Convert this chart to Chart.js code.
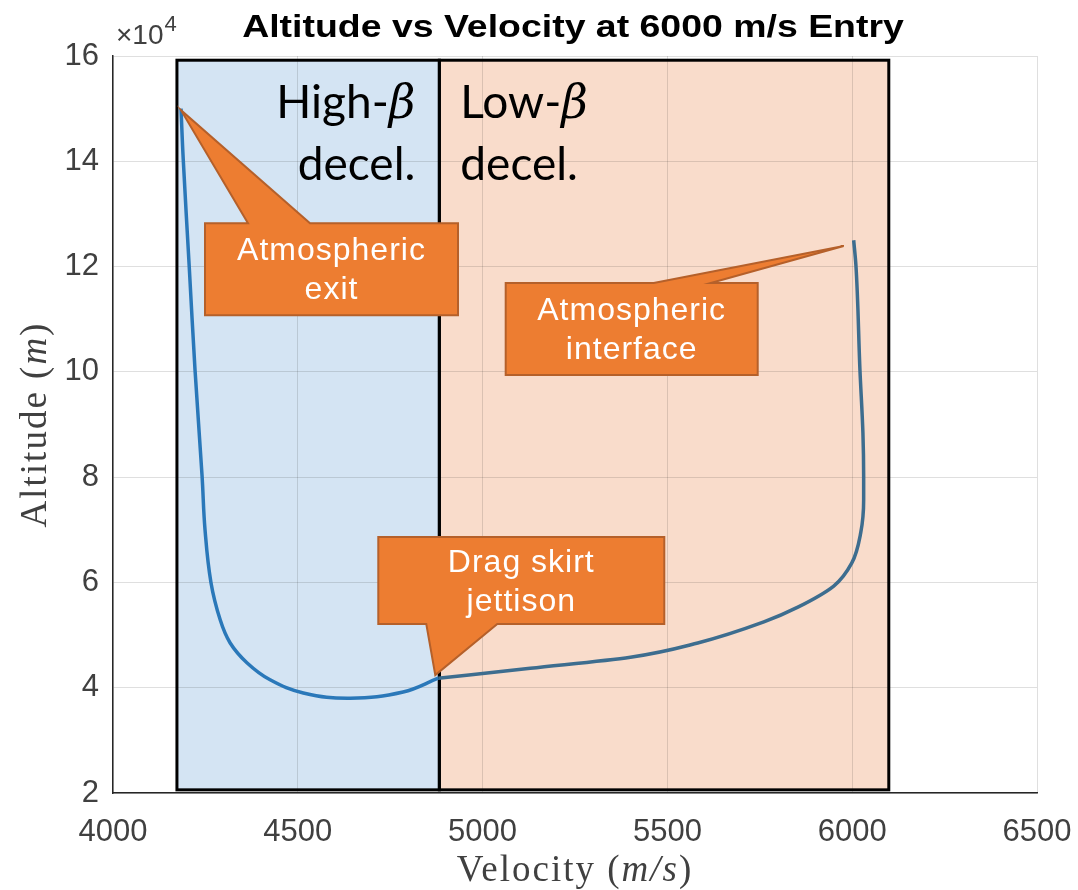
<!DOCTYPE html>
<html>
<head>
<meta charset="utf-8">
<script src="https://cdn.jsdelivr.net/npm/chart.js@4.4.1/dist/chart.umd.min.js"></script>
<style>
  body { margin: 0; background: #fff; }
  canvas { display: block; }
</style>
</head>
<body>
<canvas id="chart" width="1078" height="890"></canvas>
<script>
// trajectory, in flight order (velocity m/s, altitude m)
const lowBetaVelocity = [6004, 6010, 6021, 6029, 6031, 6031, 6023, 5999, 5950, 5853, 5761, 5582, 5400, 5129, 4880];
const lowBetaAltitude = [125000, 120300, 100300, 88400, 80200, 75700, 69400, 63700, 59300, 55300, 52500, 48500, 45800, 43700, 41800];

const highBetaVelocity = [4880, 4785, 4642, 4515, 4425, 4363, 4317, 4290, 4265, 4249, 4241, 4222, 4206, 4190, 4184];
const highBetaAltitude = [41800, 39200, 38000, 39000, 41500, 44700, 48500, 52900, 60000, 70000, 80200, 100300, 120300, 140400, 150000];

const velocityTicks = [4000, 4500, 5000, 5500, 6000, 6500];
const altitudeTicks = [20000, 40000, 60000, 80000, 100000, 120000, 140000, 160000];

// shaded phases (velocity range) and their common altitude range
const highBetaSpan = [4173, 4883];
const lowBetaSpan = [4883, 6099];
const spanAltitude = [20600, 159200];

// callouts: text lines and the data point the wedge points at
const calloutText = [['Atmospheric', 'exit'], ['Atmospheric', 'interface'], ['Drag skirt', 'jettison']];
const calloutTip = [[4184, 149700], [5977, 123900], [4872, 42400]];
// box offsets from the tip in px: l, t, r, b, wedge edge, wedge from, wedge to
const calloutBox = [
  [24, 113, 277, 205, 'top', 67, 129],
  [-338, 37, -86, 129, 'top', -190, -133],
  [-57, -138, 229, -51, 'bottom', -9, 62]
];

const toPoints = (xs, ys) => xs.map((x, i) => ({ x: x, y: ys[i] }));

const gridColor = 'rgba(38,38,38,0.15)';
const tickFont = { family: '"Liberation Sans", Arial, sans-serif', size: 31 };

const decor = {
  id: 'decor',
  beforeDraw(chart) {
    const { ctx, scales: { x, y } } = chart;
    ctx.save();
    ctx.fillStyle = '#fff';
    ctx.fillRect(0, 0, chart.width, chart.height);
    const top = y.getPixelForValue(spanAltitude[1]);
    const bot = y.getPixelForValue(spanAltitude[0]);
    ctx.fillStyle = '#d4e4f3';
    ctx.fillRect(x.getPixelForValue(highBetaSpan[0]), top,
      x.getPixelForValue(highBetaSpan[1]) - x.getPixelForValue(highBetaSpan[0]), bot - top);
    ctx.fillStyle = '#f9dccb';
    ctx.fillRect(x.getPixelForValue(lowBetaSpan[0]), top,
      x.getPixelForValue(lowBetaSpan[1]) - x.getPixelForValue(lowBetaSpan[0]), bot - top);
    ctx.restore();
  },
  beforeDatasetsDraw(chart) {
    const { ctx, scales: { x, y } } = chart;
    const top = y.getPixelForValue(spanAltitude[1]);
    const bot = y.getPixelForValue(spanAltitude[0]);
    ctx.save();
    ctx.strokeStyle = '#000';
    ctx.lineWidth = 3;
    [highBetaSpan, lowBetaSpan].forEach(s => {
      const l = x.getPixelForValue(s[0]), r = x.getPixelForValue(s[1]);
      ctx.strokeRect(l, top, r - l, bot - top);
    });
    ctx.restore();
  },
  afterDraw(chart) {
    const { ctx, chartArea: ca, scales: { x, y } } = chart;
    const mid = (ca.left + ca.right) / 2;
    ctx.save();

    // title (matlab bold title is wider than Liberation Sans)
    ctx.fillStyle = '#000';
    ctx.textAlign = 'center';
    ctx.textBaseline = 'alphabetic';
    ctx.font = 'bold 32px "Liberation Sans", Arial, sans-serif';
    ctx.save();
    ctx.translate(mid - 2, 37);
    ctx.scale(1.17, 1);
    ctx.fillText('Altitude vs Velocity at 6000 m/s Entry', 0, 0);
    ctx.restore();

    // exponent
    ctx.fillStyle = '#404040';
    ctx.textAlign = 'left';
    ctx.font = '28px "Liberation Sans", Arial, sans-serif';
    ctx.fillText('\u00d710', ca.left + 3, 44);
    const w = ctx.measureText('\u00d710').width;
    ctx.font = '22px "Liberation Sans", Arial, sans-serif';
    ctx.fillText('4', ca.left + 4 + w, 31);

    // axis titles, italic units
    const serif = '"Liberation Serif", "Times New Roman", serif';
    const parts = (label, unit) => [[label + ' (', ''], [unit, 'italic '], [')', '']];
    const drawParts = (list, cx, cy) => {
      ctx.letterSpacing = '2px';
      let total = 0;
      list.forEach(p => { ctx.font = p[1] + '37px ' + serif; total += ctx.measureText(p[0]).width; });
      let px = cx - total / 2;
      list.forEach(p => {
        ctx.font = p[1] + '37px ' + serif;
        ctx.fillText(p[0], px, cy);
        px += ctx.measureText(p[0]).width;
      });
      ctx.letterSpacing = '0px';
    };
    ctx.fillStyle = '#404040';
    ctx.textAlign = 'left';
    drawParts(parts('Velocity', 'm/s'), mid, 881);
    ctx.save();
    ctx.translate(46, (ca.top + ca.bottom) / 2);
    ctx.rotate(-Math.PI / 2);
    drawParts(parts('Altitude', 'm'), 0, 0);
    ctx.restore();

    // phase labels
    const top = y.getPixelForValue(spanAltitude[1]);
    const split = x.getPixelForValue(highBetaSpan[1]);
    const sans = 'Lato, "Open Sans", sans-serif';
    const size = '46px ';
    const beta = 'italic 46px "DejaVu Serif", serif';
    ctx.fillStyle = '#000';
    ctx.font = size + sans;
    const hw = ctx.measureText('High-').width;
    ctx.font = beta;
    const bw = ctx.measureText('\u03b2').width;
    ctx.font = size + sans;
    ctx.fillText('High-', split - 24 - bw - hw, top + 58);
    ctx.font = beta;
    ctx.fillText('\u03b2', split - 24 - bw, top + 58);
    ctx.font = size + sans;
    ctx.textAlign = 'right';
    ctx.fillText('decel.', split - 24, top + 120);
    ctx.textAlign = 'left';
    ctx.fillText('Low-', split + 21, top + 58);
    const lw = ctx.measureText('Low-').width;
    ctx.font = beta;
    ctx.fillText('\u03b2', split + 21 + lw, top + 58);
    ctx.font = size + sans;
    ctx.fillText('decel.', split + 21, top + 120);

    // callouts
    calloutTip.forEach((tip, i) => {
      const tx = x.getPixelForValue(tip[0]), ty = y.getPixelForValue(tip[1]);
      const [l, t, r, b, edge, w0, w1] = calloutBox[i];
      ctx.beginPath();
      if (edge === 'top') {
        ctx.moveTo(tx + l, ty + t);
        ctx.lineTo(tx + w0, ty + t);
        ctx.lineTo(tx, ty);
        ctx.lineTo(tx + w1, ty + t);
        ctx.lineTo(tx + r, ty + t);
        ctx.lineTo(tx + r, ty + b);
        ctx.lineTo(tx + l, ty + b);
      } else {
        ctx.moveTo(tx + l, ty + t);
        ctx.lineTo(tx + r, ty + t);
        ctx.lineTo(tx + r, ty + b);
        ctx.lineTo(tx + w1, ty + b);
        ctx.lineTo(tx, ty);
        ctx.lineTo(tx + w0, ty + b);
        ctx.lineTo(tx + l, ty + b);
      }
      ctx.closePath();
      ctx.fillStyle = '#ed7d31';
      ctx.fill();
      ctx.strokeStyle = '#b5602a';
      ctx.lineWidth = 2;
      ctx.stroke();

      ctx.fillStyle = '#fff';
      ctx.textAlign = 'center';
      ctx.font = '32px "Liberation Sans", Arial, sans-serif';
      ctx.letterSpacing = '1px';
      const cx = tx + (l + r) / 2, cy = ty + (t + b) / 2;
      ctx.fillText(calloutText[i][0], cx, cy - 9);
      ctx.fillText(calloutText[i][1], cx, cy + 30);
      ctx.letterSpacing = '0px';
    });
    ctx.restore();
  }
};

new Chart(document.getElementById('chart'), {
  type: 'line',
  data: {
    datasets: [{
      label: 'High-beta deceleration',
      data: toPoints(highBetaVelocity, highBetaAltitude),
      borderColor: '#2a78b9',
      borderWidth: 3.5,
      pointRadius: 0,
      tension: 0.4,
      fill: false
    }, {
      label: 'Low-beta deceleration',
      data: toPoints(lowBetaVelocity, lowBetaAltitude),
      indexAxis: 'y',
      borderColor: '#3d6d8f',
      borderWidth: 3.5,
      pointRadius: 0,
      cubicInterpolationMode: 'monotone',
      fill: false
    }]
  },
  options: {
    responsive: false,
    animation: false,
    layout: { padding: { top: 56, right: 41, left: 0, bottom: 0 } },
    plugins: { legend: { display: false }, tooltip: { enabled: false } },
    scales: {
      x: {
        type: 'linear',
        min: 4000,
        max: 6500,
        afterBuildTicks: a => { a.ticks = velocityTicks.map(v => ({ value: v })); },
        afterFit: s => { s.height = 97; s.paddingLeft = 0; s.paddingRight = 0; },
        grid: { color: gridColor, drawTicks: false },
        border: { color: '#262626', width: 1.5 },
        ticks: { font: tickFont, color: '#404040', padding: 21, maxRotation: 0, callback: v => String(v) }
      },
      y: {
        type: 'linear',
        min: 20000,
        max: 160000,
        afterBuildTicks: a => { a.ticks = altitudeTicks.map(v => ({ value: v })); },
        afterFit: s => { s.width = 113; s.paddingTop = 0; s.paddingBottom = 0; },
        grid: { color: gridColor, drawTicks: false },
        border: { color: '#262626', width: 1.5 },
        ticks: { font: tickFont, color: '#404040', padding: 14, callback: v => String(v / 1e4) }
      }
    }
  },
  plugins: [decor]
});
</script>
</body>
</html>
